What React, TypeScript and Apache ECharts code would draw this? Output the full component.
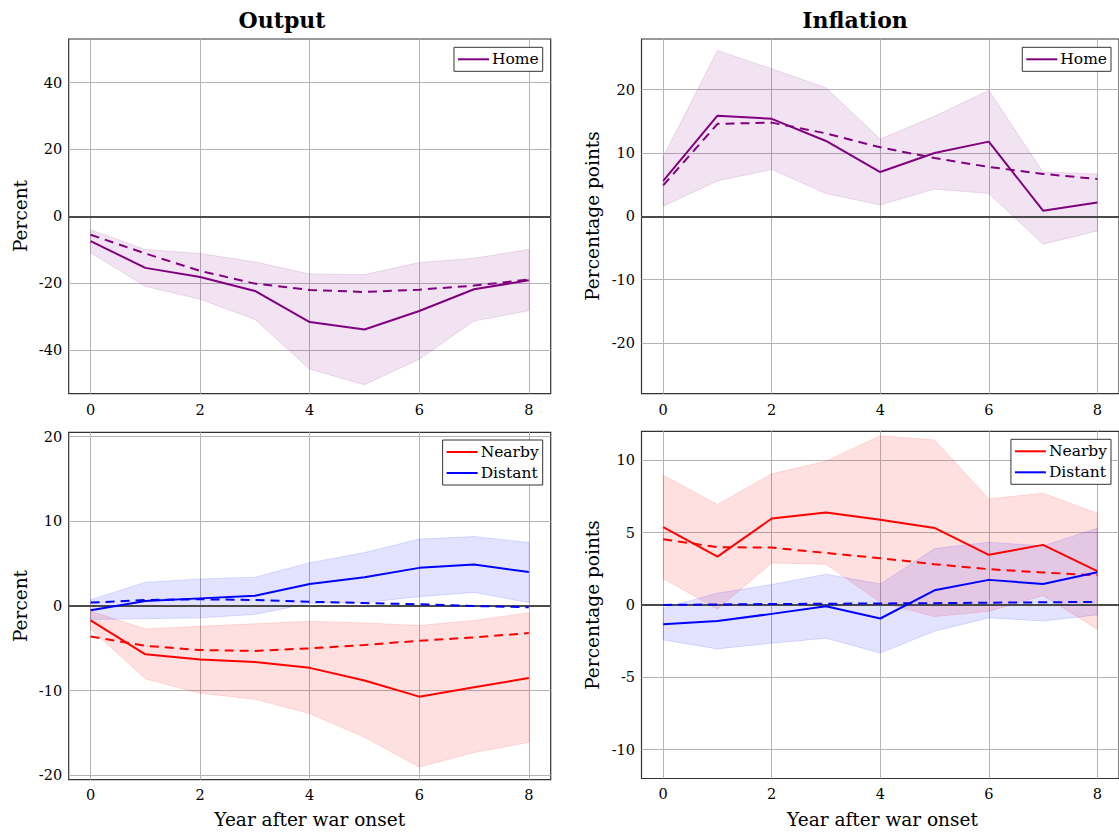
import React, { useEffect, useRef } from 'react';
import * as echarts from 'echarts';

// ---------- data ----------
const years = [0, 1, 2, 3, 4, 5, 6, 7, 8];
const xTicks = [0, 2, 4, 6, 8];

// Output, Home
const outHome = [-7.4, -15.4, -18.1, -22.3, -31.6, -33.8, -28.3, -21.8, -19.1];
const outHomeDash = [-5.5, -11.1, -16.3, -20.1, -22.0, -22.6, -21.9, -20.7, -18.9];
const outHomeHi = [-4.0, -9.9, -11.1, -13.6, -17.2, -17.4, -13.8, -12.5, -9.9];
const outHomeLo = [-10.9, -20.9, -24.8, -30.8, -45.7, -50.3, -42.7, -31.3, -28.2];

// Inflation, Home
const infHome = [5.6, 15.9, 15.4, 11.9, 7.0, 10.0, 11.8, 0.9, 2.2];
const infHomeDash = [4.9, 14.6, 14.8, 13.1, 10.9, 9.2, 7.8, 6.7, 5.9];
const infHomeHi = [9.4, 26.2, 23.3, 20.3, 12.2, 15.8, 19.9, 7.0, 6.7];
const infHomeLo = [1.6, 5.6, 7.4, 3.6, 1.8, 4.3, 3.6, -4.4, -2.3];

// Output, Nearby / Distant
const outNear = [-1.7, -5.7, -6.3, -6.6, -7.3, -8.8, -10.7, -9.6, -8.5];
const outNearDash = [-3.6, -4.7, -5.2, -5.3, -5.0, -4.6, -4.1, -3.7, -3.2];
const outNearHi = [-0.6, -2.7, -2.4, -2.1, -1.8, -2.0, -2.3, -1.7, -0.8];
const outNearLo = [-2.7, -8.6, -10.3, -11.0, -12.7, -15.5, -19.0, -17.3, -16.1];
const outDist = [-0.5, 0.6, 0.9, 1.2, 2.6, 3.4, 4.5, 4.9, 4.0];
const outDistDash = [0.4, 0.7, 0.8, 0.7, 0.5, 0.35, 0.2, 0.0, -0.15];
const outDistHi = [0.75, 2.8, 3.2, 3.4, 5.1, 6.3, 7.9, 8.2, 7.5];
const outDistLo = [-1.6, -1.5, -1.4, -1.0, 0.3, 0.4, 1.1, 1.6, 0.4];

// Inflation, Nearby / Distant
const infNear = [5.37, 3.34, 5.97, 6.38, 5.88, 5.32, 3.46, 4.15, 2.33];
const infNearDash = [4.54, 3.99, 3.96, 3.59, 3.23, 2.81, 2.47, 2.24, 2.05];
const infNearHi = [8.96, 6.94, 9.06, 9.93, 11.7, 11.4, 7.33, 7.72, 6.34];
const infNearLo = [1.82, -0.3, 2.9, 2.81, 0.18, -0.81, -0.44, 0.65, -1.68];
const infDist = [-1.34, -1.11, -0.62, -0.09, -0.94, 1.01, 1.73, 1.45, 2.26];
const infDistDash = [0.0, 0.03, 0.06, 0.08, 0.1, 0.12, 0.15, 0.18, 0.21];
const infDistHi = [-0.23, 0.81, 1.41, 2.12, 1.45, 3.89, 4.33, 4.08, 5.3];
const infDistLo = [-2.42, -3.04, -2.65, -2.3, -3.32, -1.82, -0.9, -1.11, -0.69];

// axis ranges and tick labels
const yRanges = [53, 28, 20.5, 12];
const yTicks = [
  [-40, -20, 0, 20, 40],
  [-20, -10, 0, 10, 20],
  [-20, -10, 0, 10, 20],
  [-10, -5, 0, 5, 10],
];
const titles = ['Output', 'Inflation'];
const yNames = ['Percent', 'Percentage points', 'Percent', 'Percentage points'];
const xName = 'Year after war onset';

// ---------- styling ----------
const FONT = 'DejaVu Serif';
const PURPLE = '#800080';
const RED = '#ff0000';
const BLUE = '#0000ff';

const grids = [
  { left: 68.7, top: 39, width: 482, height: 354.7 },
  { left: 641.5, top: 39, width: 482, height: 354.7 },
  { left: 68.7, top: 432.3, width: 482, height: 347.4 },
  { left: 641.5, top: 431.3, width: 482, height: 347.2 },
];

function band(g: number, lo: number[], hi: number[], fill: string, stroke: string) {
  return {
    type: 'custom',
    name: 'band' + g + fill,
    xAxisIndex: g,
    yAxisIndex: g,
    silent: true,
    clip: true,
    z: 1,
    data: years.map((x, i) => [x, lo[i], hi[i]]),
    encode: { x: 0, y: [1, 2] },
    renderItem: (params: any, api: any) => {
      if (params.dataIndex !== 0) return null;
      const upper = years.map((x, i) => api.coord([x, hi[i]]));
      const lower = years.map((x, i) => api.coord([x, lo[i]])).reverse();
      return {
        type: 'polygon',
        shape: { points: upper.concat(lower) },
        style: { fill, stroke, lineWidth: 1 },
      };
    },
  };
}

function line(name: string, g: number, vals: number[], color: string, dashed: boolean, zero = false) {
  const s: any = {
    type: 'line',
    name,
    xAxisIndex: g,
    yAxisIndex: g,
    data: years.map((x, i) => [x, vals[i]]),
    symbol: 'none',
    showSymbol: false,
    silent: true,
    color,
    z: dashed ? 3 : 4,
    lineStyle: { color, width: 2, type: dashed ? [9, 6] : 'solid' },
  };
  if (zero) {
    s.markLine = {
      silent: true,
      symbol: 'none',
      label: { show: false },
      lineStyle: { color: '#4a4a4a', width: 2, type: 'solid' },
      data: [{ yAxis: 0 }],
      z: 2,
    };
  }
  return s;
}

function legend(names: string[], right: number, top: number) {
  return {
    data: names,
    orient: 'vertical',
    right,
    top,
    icon: 'rect',
    itemWidth: 31,
    itemHeight: 2,
    itemGap: 5,
    padding: [4, 4, 4, 4],
    backgroundColor: '#ffffff',
    borderColor: '#333333',
    borderWidth: 1,
    borderRadius: 0,
    selectedMode: false,
    textStyle: { fontFamily: FONT, fontSize: 15.5, color: '#000', padding: [0, 0, 0, -2] },
  };
}

export default function App() {
  const ref = useRef<HTMLDivElement>(null);

  useEffect(() => {
    if (!ref.current) return;
    const chart = echarts.init(ref.current, null, { renderer: 'svg' });

    const xAxis = grids.map((_, i) => ({
      type: 'value',
      gridIndex: i,
      min: -0.4,
      max: 8.4,
      axisLine: { show: false },
      axisTick: { show: false, customValues: xTicks },
      axisLabel: {
        customValues: xTicks,
        fontFamily: FONT,
        fontSize: 14.5,
        color: '#000',
        margin: i < 2 ? 9 : 7.5,
      },
      splitLine: { show: true, lineStyle: { color: '#b4b4b4', width: 1 } },
    }));

    const yAxis = grids.map((_, i) => ({
      type: 'value',
      gridIndex: i,
      min: -yRanges[i],
      max: yRanges[i],
      axisLine: { show: false },
      axisTick: { show: false, customValues: yTicks[i] },
      axisLabel: {
        customValues: yTicks[i],
        fontFamily: FONT,
        fontSize: 14.5,
        color: '#000',
        margin: 6.5,
      },
      splitLine: { show: true, lineStyle: { color: '#b4b4b4', width: 1 } },
    }));

    const series: any[] = [
      // panel 0: Output, Home
      band(0, outHomeLo, outHomeHi, 'rgba(128,0,128,0.11)', 'rgba(128,0,128,0.12)'),
      line('Home (fit)', 0, outHomeDash, PURPLE, true),
      line('Home', 0, outHome, PURPLE, false, true),
      // panel 1: Inflation, Home
      band(1, infHomeLo, infHomeHi, 'rgba(128,0,128,0.11)', 'rgba(128,0,128,0.12)'),
      line('Home (fit)', 1, infHomeDash, PURPLE, true),
      line('Home', 1, infHome, PURPLE, false, true),
      // panel 2: Output, Nearby / Distant
      band(2, outNearLo, outNearHi, 'rgba(255,0,0,0.12)', 'rgba(255,0,0,0.12)'),
      band(2, outDistLo, outDistHi, 'rgba(0,0,255,0.11)', 'rgba(0,0,255,0.12)'),
      line('Nearby (fit)', 2, outNearDash, RED, true),
      line('Distant (fit)', 2, outDistDash, BLUE, true),
      line('Nearby', 2, outNear, RED, false, true),
      line('Distant', 2, outDist, BLUE, false),
      // panel 3: Inflation, Nearby / Distant
      band(3, infNearLo, infNearHi, 'rgba(255,0,0,0.12)', 'rgba(255,0,0,0.12)'),
      band(3, infDistLo, infDistHi, 'rgba(0,0,255,0.11)', 'rgba(0,0,255,0.12)'),
      line('Nearby (fit)', 3, infNearDash, RED, true),
      line('Distant (fit)', 3, infDistDash, BLUE, true),
      line('Nearby', 3, infNear, RED, false, true),
      line('Distant', 3, infDist, BLUE, false),
    ];

    const graphic: any[] = [
      {
        type: 'text', x: 282, y: 20,
        style: { text: titles[0], fontFamily: FONT, fontSize: 22, fontWeight: 'bold', fill: '#000', textAlign: 'center', textVerticalAlign: 'middle' },
      },
      {
        type: 'text', x: 855, y: 20,
        style: { text: titles[1], fontFamily: FONT, fontSize: 22, fontWeight: 'bold', fill: '#000', textAlign: 'center', textVerticalAlign: 'middle' },
      },
    ];
    const yNamePos = [[20, 216], [592, 216], [20, 606], [592, 605]];
    yNames.forEach((t, i) => {
      graphic.push({
        type: 'text', x: yNamePos[i][0], y: yNamePos[i][1], rotation: Math.PI / 2,
        style: { text: t, fontFamily: FONT, fontSize: 18.5, fill: '#000', textAlign: 'center', textVerticalAlign: 'middle' },
      });
    });
    [309.7, 882.5].forEach((x) => {
      graphic.push({
        type: 'text', x, y: 819,
        style: { text: xName, fontFamily: FONT, fontSize: 18.5, fill: '#000', textAlign: 'center', textVerticalAlign: 'middle' },
      });
    });

    chart.setOption({
      animation: false,
      backgroundColor: '#ffffff',
      grid: grids.map((g) => ({ ...g, show: true, borderColor: '#333333', borderWidth: 1.2, backgroundColor: 'transparent', containLabel: false })),
      xAxis,
      yAxis,
      legend: [
        legend(['Home'], 576.3, 47.3),
        legend(['Home'], 8, 47.3),
        legend(['Nearby', 'Distant'], 576.3, 440),
        legend(['Nearby', 'Distant'], 8, 439.3),
      ],
      series,
      graphic,
    });

    return () => {
      chart.dispose();
    };
  }, []);

  return (
    <div
      ref={ref}
      style={{ position: 'absolute', left: 0, top: 0, width: 1119, height: 833 }}
    />
  );
}
